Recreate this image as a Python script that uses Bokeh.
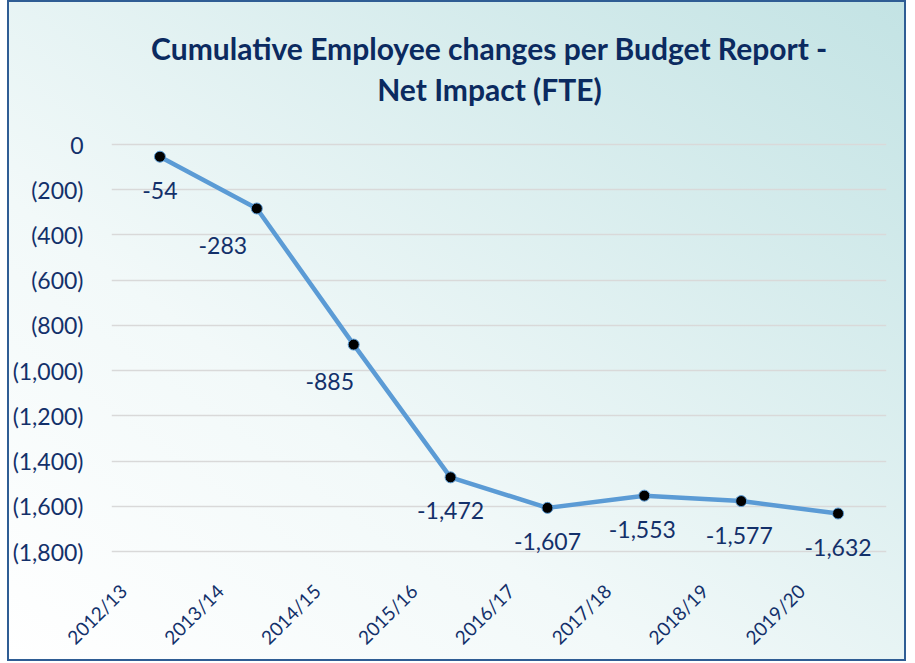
import math
from bokeh.plotting import figure
from bokeh.models import (ColumnDataSource, Range1d, LinearAxis, FixedTicker,
                          CustomJSTickFormatter, Label)
from bokeh.embed import file_html
from bokeh.resources import INLINE

years = ["2012/13", "2013/14", "2014/15", "2015/16", "2016/17", "2017/18", "2018/19", "2019/20"]
net_impact = [-54, -283, -885, -1472, -1607, -1553, -1577, -1632]
label_texts = ["-54", "-283", "-885", "-1,472", "-1,607", "-1,553", "-1,577", "-1,632"]
y_ticks = [0, -200, -400, -600, -800, -1000, -1200, -1400, -1600, -1800]
title_lines = ["Cumulative Employee changes per Budget Report -", "Net Impact (FTE)"]

NAVY = "#0b2a60"
LABEL_NAVY = "#13306a"
FONT = "Lato"

# layout (pixels)
GRID_H = 407          # distance between the 0 and -1800 grid lines
TOP_PAD = 142         # room above the 0 line for the title
BOT_PAD = 8           # room below the -1800 line for data labels
FRAME_W = 775
Y_TOP_VAL, Y_BOT_VAL = 0, -1800
upp = (Y_TOP_VAL - Y_BOT_VAL) / GRID_H          # data units per pixel

# small pixel nudges for data labels (style only)
label_dx = [0, -34, -24, 0, 0, -2, -2, 0]
label_dy = [34, 37, 37, 33, 34, 34, 34, 34]

xpos = list(range(len(years)))
src = ColumnDataSource(dict(x=xpos, y=net_impact, t=label_texts, dx=label_dx, dy=label_dy))

p = figure(frame_width=FRAME_W, frame_height=GRID_H + TOP_PAD + BOT_PAD,
           x_range=Range1d(-0.5, len(years) - 0.5),
           y_range=Range1d(Y_BOT_VAL - BOT_PAD * upp, Y_TOP_VAL + TOP_PAD * upp),
           output_backend="svg", toolbar_location=None,
           min_border_left=95, min_border_right=18, min_border_top=0, min_border_bottom=0)

p.styles = {"border": "2px solid #2f5d94",
            "margin-left": "7px", "margin-bottom": "-8px",
            "background": "linear-gradient(to top right, #ffffff 0%, #f2f9f9 35%, #c3e3e4 100%)"}
p.background_fill_alpha = 0
p.border_fill_alpha = 0
p.outline_line_color = None

# y axis
p.yaxis.ticker = FixedTicker(ticks=y_ticks)
p.yaxis.formatter = CustomJSTickFormatter(code="""
    const a = Math.abs(tick).toLocaleString('en-US');
    return tick < 0 ? '(' + a + ')' : a;
""")
p.yaxis.axis_line_color = None
p.yaxis.major_tick_line_color = None
p.yaxis.minor_tick_line_color = None
p.yaxis.major_label_standoff = 22
p.yaxis.major_label_text_font = FONT
p.yaxis.major_label_text_font_size = "23px"
p.yaxis.major_label_text_color = LABEL_NAVY

# hide the main x axis; use a shifted label axis instead
p.xaxis.visible = False
p.xgrid.grid_line_color = None
p.ygrid.grid_line_color = "#d9d9d9"
p.ygrid.grid_line_width = 1.5

shift = 0.38
p.extra_x_ranges = {"lab": Range1d(-0.5 + shift, len(years) - 0.5 + shift)}
xa = LinearAxis(x_range_name="lab", ticker=FixedTicker(ticks=xpos),
                major_label_overrides={i: y for i, y in zip(xpos, years)})
xa.axis_line_color = None
xa.major_tick_line_color = None
xa.minor_tick_line_color = None
xa.major_label_orientation = math.pi / 4
xa.major_label_standoff = 22
xa.major_label_text_font = FONT
xa.major_label_text_font_size = "19px"
xa.major_label_text_color = LABEL_NAVY
p.add_layout(xa, "below")

# chart title (two centred lines above the grid, inside the transparent frame)
px_per_cat = FRAME_W / len(years)
title_cx = -0.5 + 378 / px_per_cat
for line, above_px in zip(title_lines, [97, 56]):
    p.add_layout(Label(x=title_cx, y=Y_TOP_VAL + above_px * upp, text=line,
                       text_align="center", text_baseline="middle",
                       text_font=FONT, text_font_style="bold", text_font_size="30px",
                       text_color=NAVY))

p.line("x", "y", source=src, line_color="#5b9bd5", line_width=4.5)
p.scatter("x", "y", source=src, size=11, fill_color="black", line_color="#5b9bd5", line_width=1)
p.text("x", "y", text="t", source=src, x_offset="dx", y_offset="dy",
       text_align="center", text_baseline="middle", text_font={"value": FONT},
       text_font_size="23px", text_color=LABEL_NAVY)

open("out.html", "w").write(file_html(p, INLINE))
